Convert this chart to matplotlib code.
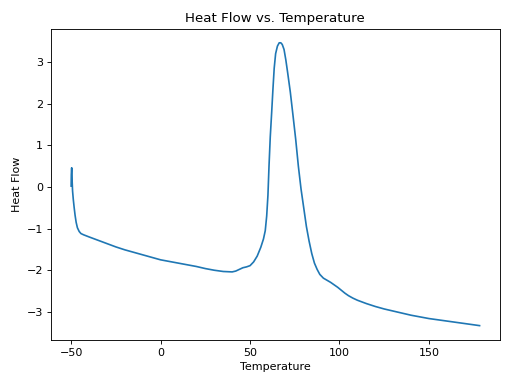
import matplotlib
matplotlib.use('Agg')
from matplotlib import pyplot as plt

# DSC-like curve
temperature = [-50.0, -49.9, -49.7, -49.5, -49.2, -48.8, -48.3, -47.8, -47.2, -46.5,
               -45.5, -44.5, -43, -40, -35, -30, -25, -20, -15, -10,
               -5, 0, 5, 10, 15, 20, 25, 30, 35, 40,
               42, 44, 46, 48, 50, 52, 54, 56, 57.5, 58.5,
               59.3, 60, 60.6, 61.3, 62.1, 62.8, 63.5, 64.3, 65.3, 66.3,
               67.2, 68.0, 69.0, 70.0, 71.0, 72.5, 74.0, 75.5, 77.0, 78.5,
               80.0, 81.5, 83.0, 84.5, 86.0, 87.5, 89.0, 91.0, 93.0, 95.0,
               97.0, 99.0, 101, 103, 105, 107.5, 110, 115, 120, 125,
               130, 135, 140, 145, 150, 155, 160, 165, 170, 175, 178.3]
heat_flow = [0.02, 0.30, 0.46, 0.20, -0.10, -0.30, -0.50, -0.68, -0.85, -0.98,
             -1.07, -1.12, -1.15, -1.20, -1.28, -1.36, -1.44, -1.51, -1.57, -1.63,
             -1.69, -1.75, -1.79, -1.83, -1.87, -1.91, -1.96, -2.00, -2.03, -2.04,
             -2.02, -1.98, -1.94, -1.92, -1.89, -1.80, -1.66, -1.45, -1.25, -1.05,
             -0.70, -0.20, 0.50, 1.20, 1.80, 2.35, 2.85, 3.20, 3.38, 3.46,
             3.46, 3.42, 3.30, 3.05, 2.75, 2.28, 1.72, 1.15, 0.50, -0.05,
             -0.50, -0.95, -1.30, -1.60, -1.83, -1.98, -2.10, -2.19, -2.24, -2.29,
             -2.35, -2.41, -2.48, -2.55, -2.61, -2.67, -2.72, -2.80, -2.87, -2.93,
             -2.98, -3.03, -3.08, -3.12, -3.16, -3.19, -3.22, -3.25, -3.28, -3.31, -3.33]

fig, ax = plt.subplots(figsize=(6.4, 4.8), dpi=80)
ax.plot(temperature, heat_flow)
ax.set_title('Heat Flow vs. Temperature')
ax.set_xlabel('Temperature')
ax.set_ylabel('Heat Flow')
fig.tight_layout()
fig.savefig('out.png')
